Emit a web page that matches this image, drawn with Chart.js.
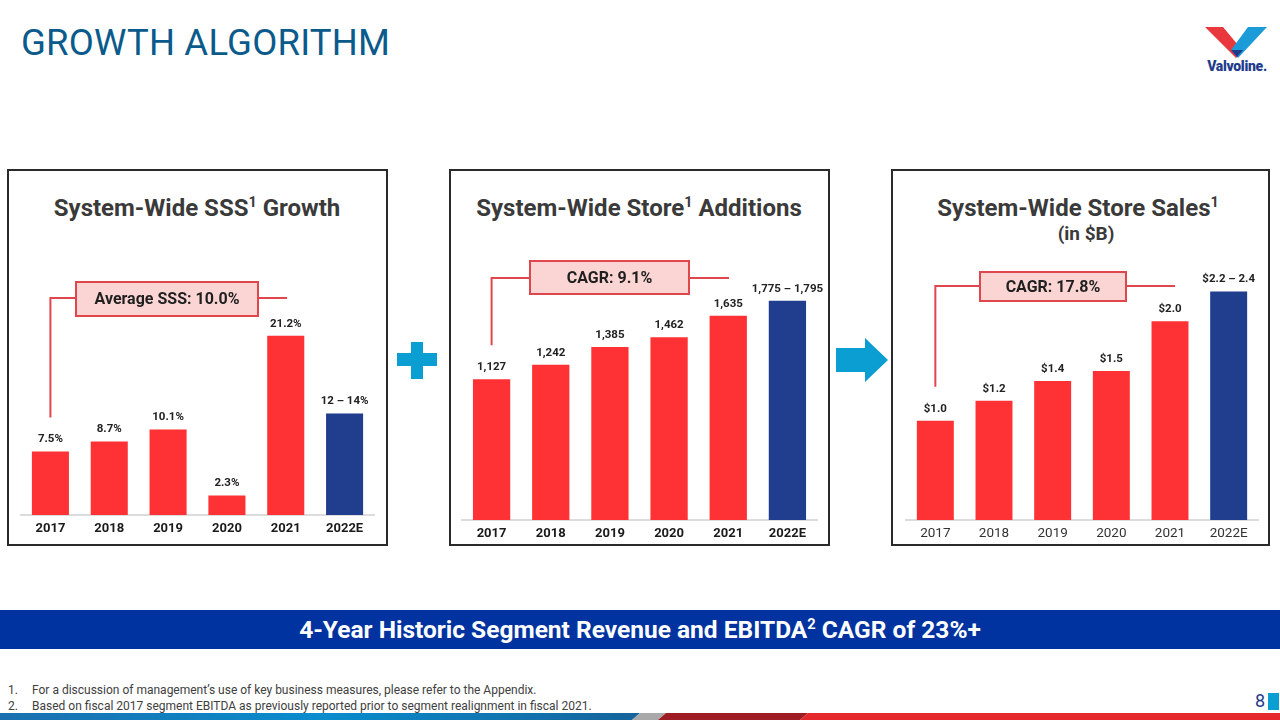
<!DOCTYPE html>
<html>
<head>
<meta charset="utf-8">
<script src="https://cdn.jsdelivr.net/npm/chart.js@4.4.0/dist/chart.umd.min.js"></script>
<style>
html,body{margin:0;padding:0;background:#fff;}
body{width:1280px;height:720px;position:relative;overflow:hidden;font-family:Roboto,"Noto Sans",sans-serif;}
.panel{position:absolute;border:2px solid #2a2a2a;box-sizing:border-box;}
.ptitle{position:absolute;font-weight:700;font-size:24px;color:#3a3a3a;white-space:nowrap;transform:translateX(-50%);line-height:1;}
.sub{position:absolute;font-weight:700;font-size:19px;color:#3a3a3a;white-space:nowrap;transform:translateX(-50%);line-height:1;}
.sup{font-size:0.6em;position:relative;top:-0.6em;}
canvas{position:absolute;}
#maintitle{position:absolute;left:21px;top:25px;font-size:36.5px;color:#0b5a8c;line-height:1;letter-spacing:0.2px;}
#band{position:absolute;left:0;top:610px;width:1280px;height:39px;background:#0033a0;color:#fff;font-weight:700;font-size:24.5px;text-align:center;line-height:40px;}
#band .sup{font-size:0.6em;top:-0.6em;}
.fn{position:absolute;font-size:12px;color:#404040;white-space:nowrap;line-height:1;}
#pg{position:absolute;left:1255px;top:692px;font-size:18px;color:#1f3c8c;line-height:1;}
#pgsq{position:absolute;left:1268px;top:693px;width:11px;height:17px;background:#0a9fd3;}
</style>
</head>
<body>
<div id="maintitle">GROWTH ALGORITHM</div>

<svg style="position:absolute;left:0;top:0" width="1280" height="720">
  <!-- logo -->
  <polygon points="1205,27 1223,27 1243,51 1236,58" fill="#e8383d"/>
  <polygon points="1248,27 1267,27 1238,58 1231,50" fill="#1b9bd7"/>
  <polygon points="1231,50 1243,50 1237,57" fill="#1f3c8c"/>
  <text x="1237" y="71" text-anchor="middle" font-family="Roboto" font-weight="900" font-size="14" fill="#1f3c8c" letter-spacing="-0.3">Valvoline.</text>
  <!-- plus -->
  <rect x="397" y="353" width="40" height="13" fill="#0b9ed3"/>
  <rect x="411" y="342" width="12" height="37" fill="#0b9ed3"/>
  <!-- arrow -->
  <polygon points="836,348 865,348 865,338 888,360 865,382 865,372 836,372" fill="#0b9ed3"/>
  <!-- stripe -->
  <defs>
    <linearGradient id="bl" x1="0" x2="1" y1="0" y2="0">
      <stop offset="0" stop-color="#1a6fae"/>
      <stop offset="0.5" stop-color="#0a8ccd"/>
      <stop offset="1" stop-color="#16639a"/>
    </linearGradient>
  </defs>
  <polygon points="0,713 640,713 632,720 0,720" fill="url(#bl)"/>
  <polygon points="640,713 666,713 658,720 632,720" fill="#a9a9a9"/>
  <polygon points="666,713 808,713 800,720 658,720" fill="#9e1c24"/>
  <polygon points="808,713 1280,713 1280,720 800,720" fill="#e5282c"/>
</svg>

<div class="panel" style="left:7px;top:169px;width:381px;height:377px;"></div>
<div class="panel" style="left:449px;top:169px;width:381px;height:377px;"></div>
<div class="panel" style="left:891px;top:169px;width:379px;height:377px;"></div>

<div class="ptitle" style="left:197px;top:196px;">System-Wide SSS<span class="sup">1</span> Growth</div>
<div class="ptitle" style="left:639px;top:196px;">System-Wide Store<span class="sup">1</span> Additions</div>
<div class="ptitle" style="left:1078px;top:196px;">System-Wide Store Sales<span class="sup">1</span></div>
<div class="sub" style="left:1086px;top:224px;">(in $B)</div>

<canvas id="c1" width="393" height="309" style="left:1px;top:230px;"></canvas>
<canvas id="c2" width="395" height="314" style="left:442px;top:230px;"></canvas>
<canvas id="c3" width="376" height="314" style="left:886px;top:230px;"></canvas>

<div id="band">4-Year Historic Segment Revenue and EBITDA<span class="sup">2</span> CAGR of 23%+</div>

<div class="fn" style="left:8px;top:684px;">1.</div>
<div class="fn" style="left:32px;top:684px;">For a discussion of management’s use of key business measures, please refer to the Appendix.</div>
<div class="fn" style="left:8px;top:700px;">2.</div>
<div class="fn" style="left:32px;top:700px;">Based on fiscal 2017 segment EBITDA as previously reported prior to segment realignment in fiscal 2021.</div>

<div id="pg">8</div>
<div id="pgsq"></div>

<script>
// ---- data ----
const years = ['2017', '2018', '2019', '2020', '2021', '2022E'];
const sssValues = [7.5, 8.7, 10.1, 2.3, 21.2, 12];
const sssLabels = ['7.5%', '8.7%', '10.1%', '2.3%', '21.2%', '12 – 14%'];
const storeValues = [1127, 1242, 1385, 1462, 1635, 1755];
const storeLabels = ['1,127', '1,242', '1,385', '1,462', '1,635', '1,775 – 1,795'];
const salesValues = [1.0, 1.2, 1.4, 1.5, 2.0, 2.3];
const salesLabels = ['$1.0', '$1.2', '$1.4', '$1.5', '$2.0', '$2.2 – 2.4'];
const sssCallout = 'Average SSS: 10.0%';
const storeCallout = 'CAGR: 9.1%';
const salesCallout = 'CAGR: 17.8%';

const RED = '#fe3235';
const NAVY = '#203d8e';
const barColors = years.map((y, i) => i === years.length - 1 ? NAVY : RED);

const valueLabelPlugin = {
  id: 'valueLabels',
  afterDatasetsDraw(chart, args, opts) {
    const ctx = chart.ctx;
    const meta = chart.getDatasetMeta(0);
    ctx.save();
    ctx.font = '700 11.5px Roboto';
    ctx.fillStyle = '#222';
    ctx.textAlign = 'center';
    ctx.textBaseline = 'middle';
    meta.data.forEach((el, i) => {
      ctx.fillText(opts.labels[i], el.x, el.y - 12);
    });
    ctx.restore();
  }
};

const calloutPlugin = {
  id: 'callout',
  afterDatasetsDraw(chart, args, o) {
    const ctx = chart.ctx;
    const el = chart.getDatasetMeta(0).data[0];
    const ox = o.ox, oy = o.oy;
    const lineY = o.lineY - oy;
    const bl = o.boxL - ox, br = o.boxR - ox, bt = o.boxT - oy, bb = o.boxB - oy;
    ctx.save();
    ctx.strokeStyle = '#e0474c';
    ctx.lineWidth = 2;
    ctx.beginPath();
    ctx.moveTo(el.x, el.y - 34);
    ctx.lineTo(el.x, lineY);
    ctx.lineTo(bl, lineY);
    ctx.moveTo(br, lineY);
    ctx.lineTo(o.lineEnd - ox, lineY);
    ctx.stroke();
    ctx.fillStyle = '#fbd4d4';
    ctx.fillRect(bl, bt, br - bl, bb - bt);
    ctx.strokeRect(bl, bt, br - bl, bb - bt);
    ctx.fillStyle = '#1f1f1f';
    ctx.font = '700 16px Roboto';
    ctx.textAlign = 'center';
    ctx.textBaseline = 'middle';
    ctx.fillText(o.text, (bl + br) / 2, (bt + bb) / 2 + 1);
    ctx.restore();
  }
};

function makeChart(id, values, labels, yMax, tickFont, tickColor, pad, callout) {
  return new Chart(document.getElementById(id), {
    type: 'bar',
    data: {
      labels: years,
      datasets: [{
        data: values,
        backgroundColor: barColors,
        borderWidth: 0,
        barPercentage: 0.63,
        categoryPercentage: 1.0
      }]
    },
    options: {
      responsive: false,
      animation: false,
      devicePixelRatio: 1,
      layout: { padding: pad },
      plugins: {
        legend: { display: false },
        tooltip: { enabled: false },
        valueLabels: { labels: labels },
        callout: callout
      },
      scales: {
        y: { display: false, min: 0, max: yMax },
        x: {
          grid: { display: false, drawTicks: false },
          border: { display: true, color: '#dcdcdc', width: 2 },
          ticks: { font: tickFont, color: tickColor, padding: 6 },
          afterFit: (s) => { s.height = 24; }
        }
      }
    },
    plugins: [valueLabelPlugin, calloutPlugin]
  });
}

makeChart('c1', sssValues, sssLabels, 33.7,
  { family: 'Roboto', size: 13, weight: '700' }, '#1a1a1a', { left: 20, right: 20, top: 0, bottom: 0 },
  { text: sssCallout, ox: 1, oy: 230, lineY: 298, boxL: 76, boxR: 258, boxT: 282, boxB: 316, lineEnd: 287 });

makeChart('c2', storeValues, storeLabels, 2321,
  { family: 'Roboto', size: 13, weight: '700' }, '#1a1a1a', { left: 20, right: 20, top: 0, bottom: 0 },
  { text: storeCallout, ox: 442, oy: 230, lineY: 278, boxL: 530, boxR: 689, boxT: 261, boxB: 294, lineEnd: 729 });

makeChart('c3', salesValues, salesLabels, 2.92,
  { family: 'Roboto', size: 13.5, weight: '400' }, '#333', { left: 20, right: 4, top: 0, bottom: 0 },
  { text: salesCallout, ox: 886, oy: 230, lineY: 286, boxL: 980, boxR: 1126, boxT: 272, boxB: 301, lineEnd: 1175 });
</script>
</body>
</html>
